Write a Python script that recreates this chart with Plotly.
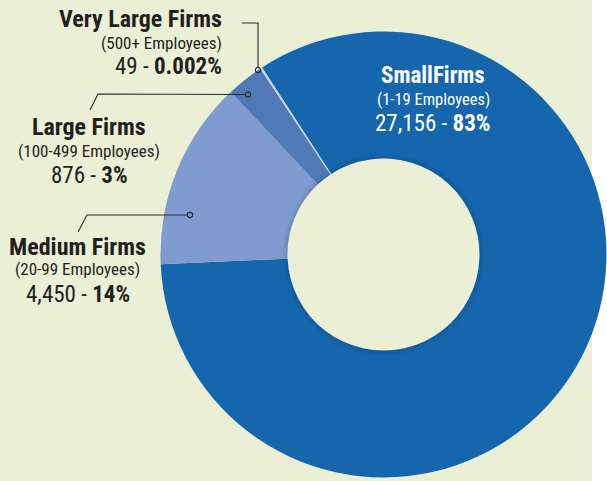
import plotly.graph_objects as go

# ---- data ----
categories = ["SmallFirms", "Medium Firms", "Large Firms", "Very Large Firms"]
employee_ranges = ["(1-19 Employees)", "(20-99 Employees)", "(100-499 Employees)", "(500+ Employees)"]
firm_counts = [27156, 4450, 876, 49]
count_labels = ["27,156", "4,450", "876", "49"]
pct_labels = ["83%", "14%", "3%", "0.002%"]

# ---- styling / layout ----
W, H = 607, 481
BG = "#ebefd6"
slice_colors = ["#1666ad", "#7f9bcf", "#5079b8", "#c3d2ee"]
FONT = "Liberation Sans Narrow, Roboto Condensed, Arial Narrow, sans-serif"
CX, CY, R = 383.5, 254.5, 223
HOLE_R = 96
PANEL_RIGHT = 592


def px(x, y):
    return x / W, 1 - y / H


fig = go.Figure()
fig.add_trace(go.Pie(
    labels=categories,
    values=firm_counts,
    sort=False,
    direction="clockwise",
    rotation=-33,
    hole=HOLE_R / R,
    textinfo="none",
    hoverinfo="label+value+percent",
    marker=dict(colors=slice_colors, line=dict(width=0)),
    domain=dict(x=[(CX - R) / W, (CX + R) / W], y=[(H - CY - R) / H, (H - CY + R) / H]),
    showlegend=False,
))

label_layout = [
    dict(x=433, xa="center", base=[83, 105, 131], size=[23, 16.5, 23], color="white"),
    dict(x=77.5, xa="center", base=[255, 275, 302], size=[24, 17, 23], color="#231f20"),
    dict(x=89, xa="center", base=[135, 157, 183], size=[24, 17, 23], color="#231f20"),
    dict(x=224, xa="right", base=[27, 49, 74], size=[24, 17, 23], color="#231f20"),
]

annotations = []
for i, lay in enumerate(label_layout):
    texts = [
        f"<b>{categories[i]}</b>",
        employee_ranges[i],
        f"{count_labels[i]} - <b>{pct_labels[i]}</b>",
    ]
    for t, b, s in zip(texts, lay["base"], lay["size"]):
        xx, yy = px(lay["x"], b - 0.3465 * s)
        annotations.append(dict(
            x=xx, y=yy, xref="paper", yref="paper", xanchor=lay["xa"], yanchor="middle",
            text=t, showarrow=False, font=dict(family=FONT, size=s, color=lay["color"]),
        ))

shapes = []
# white strip on the right of the beige panel (below the donut)
shapes.append(dict(type="rect", xref="paper", yref="paper", x0=PANEL_RIGHT / W, x1=1.01, y0=-0.01, y1=1.01,
                   fillcolor="white", line=dict(width=0), layer="below"))

# soft hole shadow rings
for d, a in [(0.8, 0.10), (2.0, 0.07), (3.2, 0.045), (4.4, 0.025)]:
    r = HOLE_R + d
    x0, y0 = px(CX - r, CY + r)
    x1, y1 = px(CX + r, CY - r)
    shapes.append(dict(type="circle", xref="paper", yref="paper", x0=x0, y0=y0, x1=x1, y1=y1,
                       line=dict(color=f"rgba(0,20,60,{a})", width=1.4), layer="above"))

# leader lines
leaders = [
    [(242, 23), (258, 23), (258, 67.5)],
    [(90, 110), (98, 94), (245.5, 94.5)],
    [(78, 232), (87, 215), (187.5, 215)],
]
dots = [(258, 70), (248, 94.5), (190, 215)]
for pts in leaders:
    p = "M " + " L ".join(f"{px(x, y)[0]:.5f},{px(x, y)[1]:.5f}" for x, y in pts)
    shapes.append(dict(type="path", xref="paper", yref="paper", path=p,
                       line=dict(color="#2b2b2b", width=1.1), layer="above"))
for x, y in dots:
    r = 2.6
    x0, y0 = px(x - r, y + r)
    x1, y1 = px(x + r, y - r)
    shapes.append(dict(type="circle", xref="paper", yref="paper", x0=x0, y0=y0, x1=x1, y1=y1,
                       line=dict(color="#2b2b2b", width=1.1), fillcolor="rgba(0,0,0,0)", layer="above"))

fig.update_layout(
    width=W, height=H,
    margin=dict(l=0, r=0, t=0, b=0),
    paper_bgcolor=BG, plot_bgcolor=BG,
    annotations=annotations, shapes=shapes,
)
fig.write_html(
    "out.html",
    config={"displayModeBar": False},
    post_script="document.body.style.margin='0';document.body.style.overflow='hidden';",
)
